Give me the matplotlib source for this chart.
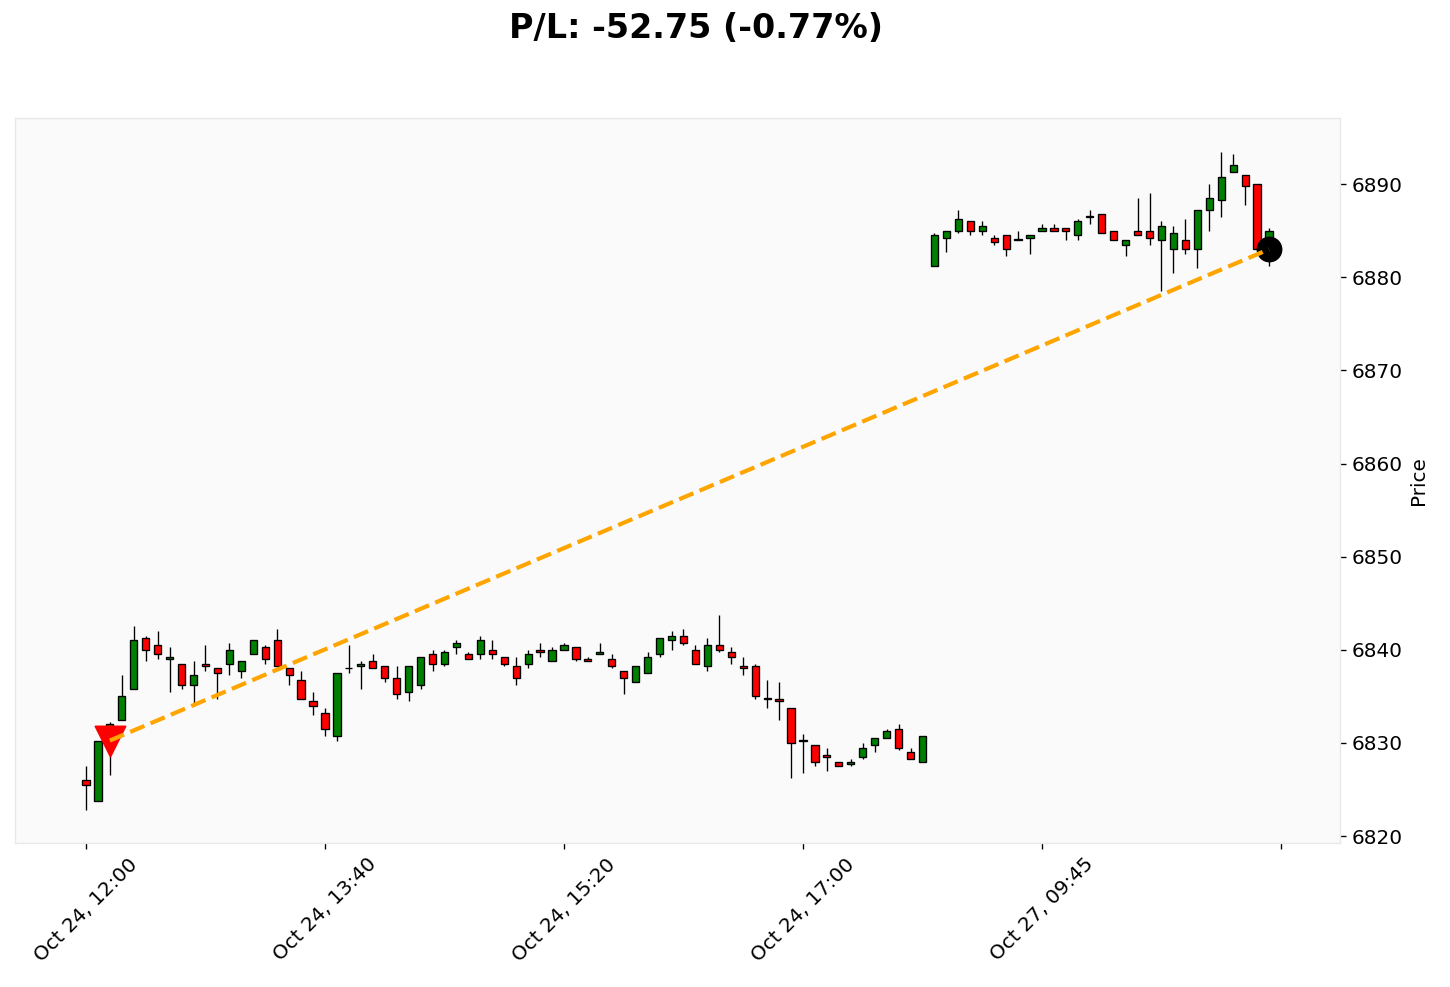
import matplotlib
matplotlib.use("Agg")
import matplotlib.pyplot as plt
import numpy as np

# OHLC of 5-minute candles
opens = [6826.00, 6823.75, 6830.25, 6832.50, 6835.75, 6841.25, 6840.50, 6839.00, 6838.50, 6836.25,
         6838.50, 6838.00, 6838.50, 6837.75, 6839.50, 6840.25, 6841.00, 6838.00, 6836.75, 6834.50,
         6833.25, 6830.75, 6838.00, 6838.25, 6838.75, 6838.25, 6837.00, 6835.50, 6836.25, 6839.50,
         6838.50, 6840.25, 6839.50, 6839.50, 6840.00, 6839.25, 6838.25, 6838.50, 6840.00, 6838.75,
         6840.00, 6840.25, 6839.00, 6839.50, 6839.00, 6837.75, 6836.50, 6837.50, 6839.50, 6841.00,
         6841.50, 6840.00, 6838.25, 6840.50, 6839.75, 6838.25, 6838.25, 6834.75, 6834.75, 6833.75,
         6830.25, 6829.75, 6828.75, 6828.00, 6827.75, 6828.50, 6829.75, 6830.50, 6831.50, 6829.00,
         6828.00, 6881.25, 6884.25, 6885.00, 6886.00, 6885.00, 6884.25, 6884.50, 6884.00, 6884.25,
         6885.00, 6885.25, 6885.25, 6884.50, 6886.50, 6886.75, 6885.00, 6883.50, 6885.00, 6885.00,
         6884.00, 6883.00, 6884.00, 6883.00, 6887.25, 6888.25, 6891.25, 6891.00, 6890.00, 6883.25]
highs = [6827.50, 6830.25, 6832.25, 6837.25, 6842.50, 6841.50, 6842.00, 6840.25, 6838.50, 6838.75,
         6840.50, 6838.00, 6840.75, 6838.75, 6841.00, 6840.50, 6842.25, 6838.00, 6837.75, 6835.50,
         6833.75, 6837.50, 6840.50, 6838.75, 6839.50, 6838.25, 6838.25, 6838.25, 6839.25, 6840.00,
         6840.00, 6841.00, 6839.75, 6841.50, 6841.00, 6839.25, 6839.25, 6840.00, 6840.75, 6840.25,
         6840.75, 6840.25, 6839.25, 6840.75, 6839.50, 6837.75, 6838.25, 6839.75, 6841.25, 6842.00,
         6842.25, 6840.50, 6841.25, 6843.75, 6840.25, 6839.25, 6838.50, 6836.75, 6836.50, 6833.75,
         6831.00, 6829.75, 6829.50, 6828.00, 6828.25, 6830.00, 6830.50, 6831.50, 6832.00, 6829.50,
         6830.75, 6884.75, 6885.00, 6887.25, 6886.00, 6886.00, 6884.50, 6884.50, 6885.00, 6884.50,
         6885.75, 6885.75, 6885.25, 6886.25, 6887.25, 6886.75, 6885.00, 6884.00, 6888.50, 6889.00,
         6886.00, 6885.50, 6886.25, 6887.25, 6890.00, 6893.50, 6893.25, 6891.00, 6890.00, 6885.25]
lows = [6822.75, 6823.75, 6826.50, 6832.50, 6835.75, 6838.75, 6839.00, 6835.50, 6835.75, 6834.00,
        6837.75, 6834.75, 6837.25, 6837.00, 6839.50, 6838.50, 6838.25, 6836.25, 6834.75, 6833.00,
        6830.75, 6830.25, 6837.50, 6835.75, 6838.00, 6836.50, 6834.75, 6834.50, 6835.75, 6837.75,
        6838.25, 6839.50, 6839.00, 6839.00, 6839.00, 6838.25, 6836.25, 6838.00, 6839.25, 6838.75,
        6840.00, 6838.75, 6838.75, 6839.50, 6838.00, 6835.25, 6836.50, 6837.50, 6839.25, 6840.00,
        6840.50, 6838.50, 6837.75, 6839.75, 6838.50, 6837.25, 6834.75, 6833.75, 6832.50, 6826.25,
        6826.75, 6827.50, 6827.00, 6827.50, 6827.50, 6828.25, 6829.00, 6830.50, 6829.25, 6828.25,
        6828.00, 6881.25, 6882.75, 6884.75, 6884.50, 6884.50, 6883.50, 6882.25, 6884.00, 6882.50,
        6885.00, 6885.00, 6884.00, 6884.00, 6885.75, 6884.75, 6884.00, 6882.25, 6884.50, 6883.50,
        6878.50, 6880.50, 6882.50, 6881.00, 6885.00, 6886.50, 6891.25, 6887.75, 6883.00, 6881.25]
closes = [6825.50, 6830.25, 6832.00, 6835.00, 6841.00, 6840.00, 6839.50, 6839.25, 6836.25, 6837.25,
          6838.25, 6837.50, 6840.00, 6838.75, 6841.00, 6839.00, 6838.25, 6837.25, 6834.75, 6834.00,
          6831.50, 6837.50, 6838.00, 6838.50, 6838.00, 6837.00, 6835.25, 6838.25, 6839.25, 6838.50,
          6839.75, 6840.75, 6839.00, 6841.00, 6839.50, 6838.50, 6837.00, 6839.50, 6839.75, 6840.00,
          6840.50, 6839.00, 6838.75, 6839.75, 6838.25, 6837.00, 6838.25, 6839.25, 6841.25, 6841.50,
          6840.75, 6838.50, 6840.50, 6840.00, 6839.25, 6838.00, 6835.00, 6834.75, 6834.50, 6830.00,
          6830.25, 6828.00, 6828.50, 6827.50, 6828.00, 6829.50, 6830.50, 6831.25, 6829.50, 6828.25,
          6830.75, 6884.50, 6885.00, 6886.25, 6885.00, 6885.50, 6883.75, 6883.00, 6884.00, 6884.50,
          6885.25, 6885.00, 6885.00, 6886.00, 6886.50, 6884.75, 6884.00, 6884.00, 6884.50, 6884.25,
          6885.50, 6884.75, 6883.00, 6887.25, 6888.50, 6890.75, 6892.00, 6889.75, 6883.00, 6885.00]

tick_pos = [0, 20, 40, 60, 80, 100]
tick_labels = ["Oct 24, 12:00", "Oct 24, 13:40", "Oct 24, 15:20", "Oct 24, 17:00", "Oct 27, 09:45", ""]

# trade (short)
entry_idx, entry_price = 2, 6830.25
exit_idx, exit_price = 99, 6883.00
pnl = entry_price - exit_price
pnl_pct = pnl / entry_price * 100

o = np.array(opens)
h = np.array(highs)
l = np.array(lows)
c = np.array(closes)
x = np.arange(len(o))

fig = plt.figure(figsize=(1450 / 120, 987 / 120), dpi=120)
ax = fig.add_axes([15 / 1450, 1 - 843 / 987, 1325 / 1450, 725 / 987])
ax.set_facecolor("#fafafa")
for s in ax.spines.values():
    s.set_color("#e8e8e8")

up = c >= o
colors = np.where(up, "green", "red")
ax.vlines(x, l, h, color="black", linewidth=0.8, zorder=2)
body = np.maximum(np.abs(c - o), 0.06)
ax.bar(x, body, bottom=np.minimum(o, c), width=0.6, color=colors,
       edgecolor="black", linewidth=0.8, zorder=3)

ax.scatter([entry_idx], [entry_price], marker="v", s=330, color="red", zorder=4)
ax.scatter([exit_idx], [exit_price], marker="o", s=210, color="black", zorder=4)
ax.plot([entry_idx, exit_idx], [entry_price, exit_price], color="orange",
        linestyle="--", linewidth=2.5, zorder=5)

ax.set_xlim(-5.94, 104.94)
ax.set_ylim(6819.25, 6897.1)
ax.yaxis.tick_right()
ax.yaxis.set_label_position("right")
ax.set_ylabel("Price", fontsize=12)
ax.set_yticks(np.arange(6820, 6891, 10))
ax.tick_params(axis="y", labelsize=12)
ax.set_xticks(tick_pos)
ax.set_xticklabels(tick_labels, rotation=45, ha="center", fontsize=12)

fig.text(696 / 1450, 1 - 28 / 987, f"P/L: {-abs(pnl):.2f} ({pnl_pct:.2f}%)",
         ha="center", va="center", fontsize=20, fontweight="bold")

fig.savefig("out.png", dpi=120)
